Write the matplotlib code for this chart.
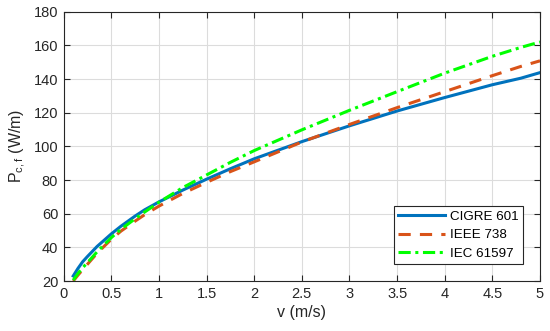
import numpy as np
import matplotlib
matplotlib.use("Agg")
import matplotlib.pyplot as plt

plt.rcParams['font.family'] = ['Liberation Sans', 'DejaVu Sans']
plt.rcParams['mathtext.fontset'] = 'custom'
plt.rcParams['mathtext.rm'] = 'Liberation Sans'

# wind speed (m/s)
v = [0.1, 0.15, 0.2, 0.25, 0.35, 0.5, 0.6, 0.75, 0.85, 1.0, 1.25, 1.5, 1.75, 2.0,
     2.5, 3.0, 3.5, 4.0, 4.5, 4.8, 5.0]

# forced convection cooling (W/m)
cigre = [23.0, 27.5, 31.5, 34.6, 40.5, 48.0, 52.5, 58.6, 62.3, 67.0, 74.0, 80.5, 86.7, 92.6,
         102.8, 112.2, 121.0, 129.0, 136.6, 140.5, 143.8]
ieee = [20.0, 23.5, 26.8, 30.0, 36.5, 44.8, 49.6, 55.6, 59.4, 64.5, 72.0, 78.6, 85.0, 90.8,
        102.6, 113.0, 123.0, 132.5, 142.0, 147.5, 150.8]
iec = [20.5, 24.5, 27.9, 31.0, 37.3, 45.8, 50.7, 57.0, 61.0, 66.8, 75.5, 83.0, 90.5, 97.5,
       109.8, 121.4, 132.5, 143.5, 153.5, 158.8, 162.0]

labels = ["CIGRE 601", "IEEE 738", "IEC 61597"]

fig = plt.figure(figsize=(5.5, 3.31), dpi=100)
ax = fig.add_axes([0.1158, 0.151, 0.866, 0.8137])

ax.plot(v, cigre, color='#0072BD', lw=2.2, ls='-', label=labels[0])
ax.plot(v, ieee, color='#D95319', lw=2.2, ls=(0, (4, 3)), label=labels[1])
ax.plot(v, iec, color='#00FF00', lw=2.2, ls=(0, (4, 1.5, 1, 1.5)), label=labels[2])

ax.set_xlim(0, 5)
ax.set_ylim(20, 180)
ax.set_xticks(np.arange(0, 5.01, 0.5))
ax.set_xticklabels(["0", "0.5", "1", "1.5", "2", "2.5", "3", "3.5", "4", "4.5", "5"])
ax.set_yticks(np.arange(20, 181, 20))

ax.grid(True, color='#dcdcdc', lw=0.8)
ax.set_axisbelow(True)
ax.tick_params(direction='in', top=True, right=True, length=4, width=0.8,
               labelsize=10.5, colors='#262626', pad=4)
for s in ax.spines.values():
  s.set_color('#262626')
  s.set_linewidth(0.8)

ax.set_xlabel("v (m/s)", fontsize=11.5, color='#262626', labelpad=3)
ax.set_ylabel(r"P$_{\mathrm{c,f}}$ (W/m)", fontsize=11.5, color='#262626', labelpad=4)

leg = ax.legend(loc='lower right', bbox_to_anchor=(0.9643, 0.062), borderaxespad=0,
                fancybox=False, framealpha=1, edgecolor='#262626', fontsize=9.6,
                handlelength=3.5, handletextpad=0.35, labelspacing=0.45,
                borderpad=0.35)
leg.get_frame().set_linewidth(0.8)

fig.savefig("out.png", dpi=100)
